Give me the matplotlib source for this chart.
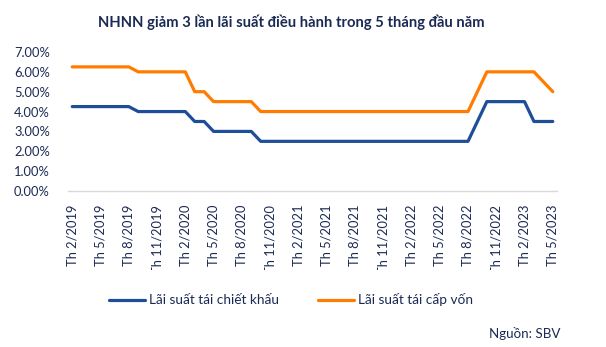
import pandas as pd
import matplotlib
matplotlib.use("Agg")
import matplotlib.pyplot as plt
from matplotlib.transforms import Bbox, TransformedBbox

plt.rcParams['font.family'] = ['Lato', 'DejaVu Sans']

# monthly data, Th 2/2019 .. Th 5/2023
months = pd.period_range("2019-02", "2023-05", freq="M")
month_labels = ["Th %d/%d" % (m.month, m.year) for m in months]

# Lãi suất tái chiết khấu (rediscount rate), %
rediscount = ([4.25] * 7 + [4.0] * 6 + [3.5] * 2 + [3.0] * 5 + [2.5] * 23
              + [3.5] + [4.5] * 5 + [3.5] * 3)
# Lãi suất tái cấp vốn (refinancing rate), %
refinance = ([6.25] * 7 + [6.0] * 6 + [5.0] * 2 + [4.5] * 5 + [4.0] * 23
             + [5.0] + [6.0] * 6 + [5.5, 5.0])

blue = '#1F4E98'
orange = '#FF7C00'
navy = '#1B2A55'

fig = plt.figure(figsize=(6.06, 3.47), dpi=100)
ax = fig.add_axes([0.1122, 0.4496, 0.8070, 0.4006])

x = list(range(len(months)))
ax.plot(x, rediscount, color=blue, lw=2.3, label='Lãi suất tái chiết khấu',
        solid_joinstyle='round', solid_capstyle='round')
ax.plot(x, refinance, color=orange, lw=2.3, label='Lãi suất tái cấp vốn',
        solid_joinstyle='round', solid_capstyle='round')

ax.set_xlim(-0.45, len(months) - 0.55)
ax.set_ylim(0, 7)
ax.set_yticks(range(0, 8))
ax.set_yticklabels(["%.2f%%" % v for v in range(0, 8)])
ax.set_xticks(x[::3])
ax.set_xticklabels(month_labels[::3], rotation=90, va='top', ha='center')

for s in ['top', 'right', 'left']:
    ax.spines[s].set_visible(False)
ax.spines['bottom'].set_color('#D9D9D9')
ax.spines['bottom'].set_linewidth(1.0)
ax.tick_params(axis='both', length=0, labelsize=9.3, colors=navy)
ax.tick_params(axis='y', pad=13)
ax.tick_params(axis='x', pad=10)

# clip long x labels like the original
clip = TransformedBbox(Bbox([[0, 1 - 270 / 347], [1, 1]]), fig.transFigure)
for lbl in ax.get_xticklabels():
    lbl.set_clip_box(clip)
    lbl.set_clip_on(True)

fig.text(0.481, 0.935, 'NHNN giảm 3 lần lãi suất điều hành trong 5 tháng đầu năm',
         ha='center', va='center', fontsize=10.6, fontweight='bold', color=navy)

fig.legend(loc='center', bbox_to_anchor=(0.48, 1 - 300 / 347), ncol=2,
           frameon=False, fontsize=9.8, handlelength=2.6, handletextpad=0.3,
           columnspacing=2.9, labelcolor=navy)

fig.text(0.924, 1 - 333 / 347, 'Nguồn: SBV', ha='right', va='center',
         fontsize=9.6, color=navy)

fig.savefig('out.png', dpi=100)
